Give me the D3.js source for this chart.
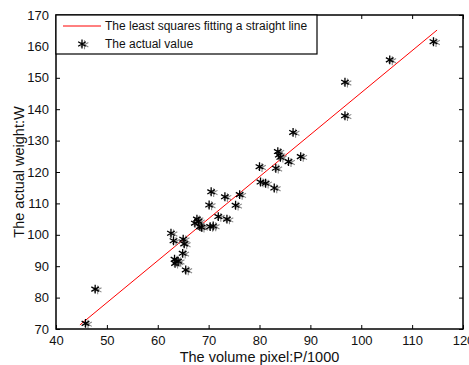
<!DOCTYPE html>
<html>
<head>
<meta charset="utf-8">
<script src="https://cdn.jsdelivr.net/npm/d3@7"></script>
<style>
  body { margin: 0; background: #fff; }
  text { font-family: Arial, "Liberation Sans", sans-serif; fill: #111; }
</style>
</head>
<body>
<script>
// measured values (volume pixel / 1000, weight)
const volume = [45.8, 47.7, 62.6, 63.1, 63.3, 63.7, 63.4, 64.0, 64.9, 65.0, 65.2, 65.5,
                67.3, 67.7, 68.0, 68.3, 68.6, 70.1, 70.3, 70.9, 70.5, 71.9, 73.2, 73.6,
                75.3, 76.1, 80.0, 80.2, 81.2, 82.9, 83.2, 83.6, 83.8, 84.1, 85.7, 86.6,
                88.1, 96.8, 96.8, 105.6, 114.2];
const weight = [71.8, 82.7, 100.5, 98.1, 92.2, 91.4, 90.9, 91.6, 94.1, 98.6, 97.1, 88.8,
                103.7, 105.0, 104.3, 102.6, 102.4, 109.5, 102.6, 102.8, 113.7, 105.8, 112.1, 105.0,
                109.4, 112.8, 121.7, 116.8, 116.4, 114.9, 121.2, 126.5, 125.4, 124.7, 123.3, 132.6,
                124.9, 148.6, 137.9, 155.7, 161.5];
// least squares line end points
const fitX = [44.7, 114.9];
const fitY = [71.3, 165.2];

const xTicks = [40, 50, 60, 70, 80, 90, 100, 110, 120];
const yTicks = [70, 80, 90, 100, 110, 120, 130, 140, 150, 160, 170];
const legendLabels = ['The least squares fitting a straight line', 'The actual value'];

const W = 469, H = 365;
const m = {left: 56, top: 15, right: 463, bottom: 329};

const svg = d3.select('body').append('svg')
    .attr('width', W)
    .attr('height', H);

const x = d3.scaleLinear().domain([40, 120]).range([m.left, m.right]);
const y = d3.scaleLinear().domain([70, 170]).range([m.bottom, m.top]);

const star = d3.symbol().type(d3.symbolAsterisk).size(55);

function marker(g, dx, dy) {
  g.append('path')
      .attr('d', star)
      .attr('transform', `translate(${dx + 2.5},${dy + 0.8})`)
      .attr('fill', 'none')
      .attr('stroke', '#888')
      .attr('stroke-width', 1.1);
  g.append('path')
      .attr('d', star)
      .attr('transform', `translate(${dx},${dy})`)
      .attr('fill', 'none')
      .attr('stroke', '#000')
      .attr('stroke-width', 1.3);
}

// fit line
svg.append('path')
    .datum(d3.zip(fitX, fitY))
    .attr('fill', 'none')
    .attr('stroke', '#f00')
    .attr('stroke-width', 1)
    .attr('d', d3.line().x(d => x(d[0])).y(d => y(d[1])));

// points
const pts = svg.append('g');
volume.forEach((v, i) => marker(pts, x(v), y(weight[i])));

// axes (inward ticks, box)
const tl = 4;
svg.append('g')
    .attr('transform', `translate(0,${m.bottom})`)
    .call(d3.axisBottom(x).tickValues(xTicks).tickSizeInner(-tl).tickSizeOuter(0).tickPadding(7))
    .call(g => g.select('.domain').remove())
    .call(g => g.selectAll('text').attr('font-size', 13).attr('font-family', 'Arial, "Liberation Sans", sans-serif'));
svg.append('g')
    .attr('transform', `translate(${m.left},0)`)
    .call(d3.axisLeft(y).tickValues(yTicks).tickSizeInner(-tl).tickSizeOuter(0).tickPadding(7))
    .call(g => g.select('.domain').remove())
    .call(g => g.selectAll('text').attr('font-size', 13).attr('font-family', 'Arial, "Liberation Sans", sans-serif'));
svg.append('g')
    .attr('transform', `translate(0,${m.top})`)
    .call(d3.axisTop(x).tickValues(xTicks).tickSizeInner(-tl).tickSizeOuter(0).tickFormat(''))
    .call(g => g.select('.domain').remove());
svg.append('g')
    .attr('transform', `translate(${m.right},0)`)
    .call(d3.axisRight(y).tickValues(yTicks).tickSizeInner(-tl).tickSizeOuter(0).tickFormat(''))
    .call(g => g.select('.domain').remove());

svg.append('rect')
    .attr('x', m.left).attr('y', m.top)
    .attr('width', m.right - m.left).attr('height', m.bottom - m.top)
    .attr('fill', 'none')
    .attr('stroke', '#000')
    .attr('stroke-width', 1.5);

// legend
const lg = svg.append('g');
lg.append('rect')
    .attr('x', m.left).attr('y', m.top)
    .attr('width', 261).attr('height', 39)
    .attr('fill', '#fff')
    .attr('stroke', '#000')
    .attr('stroke-width', 1.2);
lg.append('line')
    .attr('x1', 63).attr('x2', 101).attr('y1', 26).attr('y2', 26)
    .attr('stroke', '#f00');
marker(lg, 82, 44);
lg.selectAll('text.leg')
    .data(legendLabels)
    .enter().append('text')
    .attr('class', 'leg')
    .attr('x', 105)
    .attr('y', (d, i) => 26 + i * 18)
    .attr('dy', '0.35em')
    .attr('font-size', 12)
    .text(d => d);

// axis titles
svg.append('text')
    .attr('x', (m.left + m.right) / 2)
    .attr('y', 357)
    .attr('dy', '0.35em')
    .attr('text-anchor', 'middle')
    .attr('font-size', 14.5)
    .text('The volume pixel:P/1000');
svg.append('text')
    .attr('transform', `translate(19,${(m.top + m.bottom) / 2}) rotate(-90)`)
    .attr('dy', '0.35em')
    .attr('text-anchor', 'middle')
    .attr('font-size', 14.5)
    .text('The actual weight:W');
</script>
</body>
</html>
